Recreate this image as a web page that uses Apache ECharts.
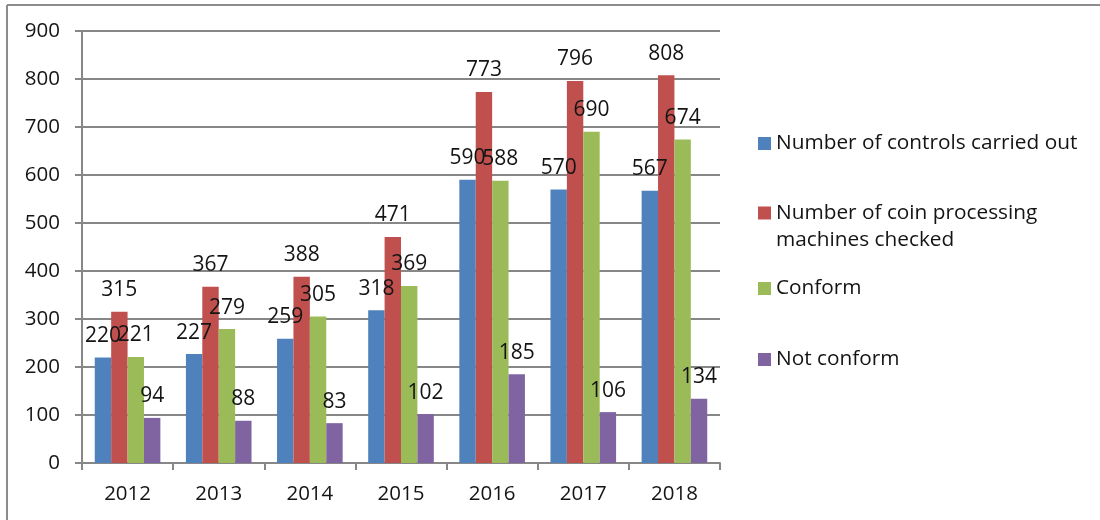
<!DOCTYPE html>
<html>
<head>
<meta charset="utf-8">
<script src="https://cdn.jsdelivr.net/npm/echarts@6/dist/echarts.min.js"></script>
<style>
  html, body { margin: 0; padding: 0; background: #fff; }
  #chart { width: 1100px; height: 520px; }
</style>
</head>
<body>
<div id="chart"></div>
<script>
// years on the x axis
const years = ['2012', '2013', '2014', '2015', '2016', '2017', '2018']
// series values
const controlsCarriedOut = [220, 227, 259, 318, 590, 570, 567]
const machinesChecked = [315, 367, 388, 471, 773, 796, 808]
const conform = [221, 279, 305, 369, 588, 690, 674]
const notConform = [94, 88, 83, 102, 185, 106, 134]
const seriesNames = [
  'Number of controls carried out',
  'Number of coin processing\nmachines checked',
  'Conform',
  'Not conform'
]

const FONT = '"Open Sans", sans-serif'
const TEXT = '#141414'
const GRID_LINE = '#878787'

const chart = echarts.init(document.getElementById('chart'))

const label = {
  show: true,
  position: 'top',
  distance: 11,
  color: TEXT,
  fontFamily: FONT,
  fontSize: 21
}

function barSeries (name, data, color) {
  return {
    name: name,
    type: 'bar',
    data: data,
    barGap: 0,
    barCategoryGap: '28%',
    itemStyle: { color: color },
    label: label
  }
}

// one legend per item so the spacing can follow the original
function legendItem (name, top, formatter) {
  const legend = {
    data: [name],
    left: 758,
    top: top,
    orient: 'vertical',
    padding: 0,
    itemWidth: 13,
    itemHeight: 13,
    itemGap: 0,
    icon: 'rect',
    selectedMode: false,
    textStyle: {
      color: TEXT,
      fontFamily: FONT,
      fontSize: 20.8,
      lineHeight: 27
    }
  }
  if (formatter) legend.formatter = formatter
  return legend
}

chart.setOption({
  animation: false,
  backgroundColor: '#fff',
  grid: {
    left: 82,
    right: 380,
    top: 31,
    bottom: 57,
    containLabel: false
  },
  legend: [
    legendItem(seriesNames[0], 130),
    // empty first line keeps the marker beside the first text line
    legendItem(seriesNames[1], 172.5, name => '\n' + name),
    legendItem(seriesNames[2], 275),
    legendItem(seriesNames[3], 346)
  ],
  xAxis: {
    type: 'category',
    data: years,
    axisLine: { lineStyle: { color: GRID_LINE, width: 2 } },
    axisTick: { show: true, length: 7, lineStyle: { color: GRID_LINE, width: 2 } },
    axisLabel: { color: TEXT, fontFamily: FONT, fontSize: 20.5, margin: 21 }
  },
  yAxis: {
    type: 'value',
    min: 0,
    max: 900,
    interval: 100,
    axisLine: { show: true, lineStyle: { color: GRID_LINE, width: 2 } },
    axisTick: { show: true, length: 7, lineStyle: { color: GRID_LINE, width: 2 } },
    splitLine: { lineStyle: { color: GRID_LINE, width: 2 } },
    axisLabel: { color: TEXT, fontFamily: FONT, fontSize: 20.5, margin: 22 }
  },
  series: [
    barSeries(seriesNames[0], controlsCarriedOut, '#4F81BD'),
    barSeries(seriesNames[1], machinesChecked, '#C0504D'),
    barSeries(seriesNames[2], conform, '#9BBB59'),
    barSeries(seriesNames[3], notConform, '#8064A2')
  ],
  // outer frame, only top and left edges are visible in the original
  graphic: [
    { type: 'line', shape: { x1: 7, y1: 5, x2: 1100, y2: 5 }, style: { stroke: '#8c8c8c', lineWidth: 2 } },
    { type: 'line', shape: { x1: 7, y1: 5, x2: 7, y2: 520 }, style: { stroke: '#8c8c8c', lineWidth: 2 } }
  ]
})
</script>
</body>
</html>
